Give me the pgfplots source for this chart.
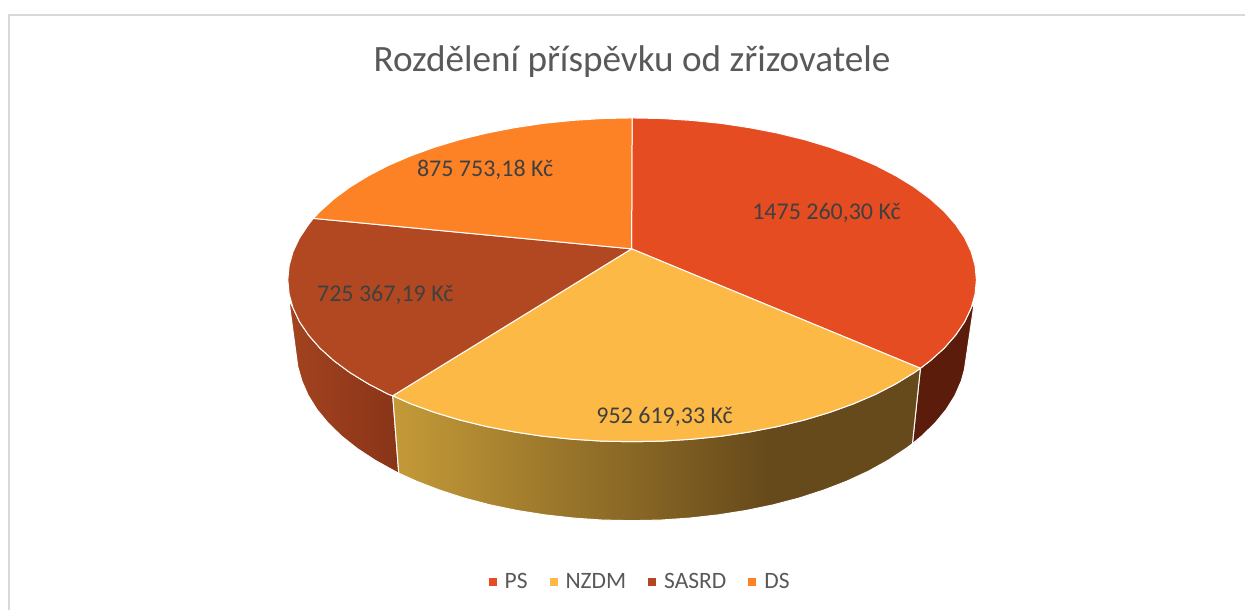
\documentclass[border=0pt]{standalone}
\usepackage{pgfplots}
\pgfplotsset{compat=1.18}
\usepackage{fontspec}
\setmainfont{Carlito}
\definecolor{cPS}{HTML}{E64C21}
\definecolor{cNZ}{HTML}{FDB945}
\definecolor{cSA}{HTML}{B14821}
\definecolor{cDS}{HTML}{FD8226}
\definecolor{wPS}{HTML}{5B1C0B}
\definecolor{nzA}{HTML}{C49A38}
\definecolor{nzB}{HTML}{674A1B}
\definecolor{saA}{HTML}{A3431F}
\definecolor{saB}{HTML}{893418}
\definecolor{cTitle}{HTML}{595959}
\definecolor{cLab}{HTML}{404040}
\definecolor{cFrame}{HTML}{D9D9D9}
\pgfdeclarehorizontalshading{nzgrad}{100bp}{color(0bp)=(nzA); color(25bp)=(nzA); color(60.5bp)=(nzB); color(75bp)=(nzB); color(100bp)=(nzB)}
\begin{document}
\begin{tikzpicture}
\begin{axis}[
  at={(0pt,0pt)}, anchor=south west,
  scale only axis, width=1246pt, height=610pt,
  xmin=0, xmax=1246, ymin=0, ymax=610, y dir=reverse,
  hide axis, clip=false, no markers,
  title={Rozdělení příspěvku od zřizovatele},
  title style={at={(axis description cs:0.5076,0.889)}, anchor=center, font=\fontsize{37.2}{42}\selectfont, text=cTitle},
  legend style={at={(axis description cs:0.5141,0.046)}, anchor=center, draw=none, fill=none,
    font=\fontsize{23.5}{26}\selectfont, text=cTitle, legend columns=-1,
    /tikz/every even column/.append style={column sep=20pt}},
  legend image code/.code={\path[#1,draw=none] (0pt,-4pt) rectangle (8pt,4pt); \path[draw=none,fill=none] (0pt,0pt) -- (14pt,0pt);},
]
% side walls
\addplot[forget plot, fill=wPS, draw=white, line width=1pt, line join=round] coordinates {
 (975,302) (971.8,308.1) (965.3,321.9) (956.2,335.4) (944.7,348.5) (930.8,361.0) (921,368.5)
 (913,444) (922.1,436.5) (935.6,423.4) (946.8,409.8) (955.6,395.7) (961.9,381.3) (965,370)} --cycle;
\addplot[forget plot, left color=saA, right color=saB, draw=white, line width=1pt, line join=round] coordinates {
 (289,300) (293.2,308.1) (299.7,321.9) (308.8,335.4) (320.3,348.5) (334.2,361.0) (350.3,372.9) (368.6,384.1) (388.9,394.6) (393,396)
 (399,473.5) (395.1,471.5) (375.4,460.6) (357.6,448.9) (341.9,436.5) (328.4,423.4) (317.2,409.8) (308.4,395.7) (302.1,381.3) (298,367)} --cycle;
\addplot[forget plot, shading=nzgrad, draw=white, line width=1pt, line join=round] coordinates {
 (921,368.5) (914.7,372.9) (896.4,384.1) (876.1,394.6) (853.9,404.1) (830.1,412.7) (804.8,420.3) (778.1,426.8) (750.3,432.2) (721.7,436.5) (692.3,439.5) (662.5,441.4) (632.5,442)
 (602.5,441.4) (572.7,439.5) (543.3,436.5) (514.7,432.2) (486.9,426.8) (460.2,420.3) (434.9,412.7) (411.1,404.1) (393,396)
 (399,473.5) (416.7,481.5) (439.8,490.4) (464.5,498.4) (490.4,505.2) (517.4,510.8) (545.3,515.2) (573.8,518.4) (602.8,520.4) (632,521)
 (661.2,520.4) (690.2,518.4) (718.7,515.2) (746.6,510.8) (773.6,505.2) (799.5,498.4) (824.2,490.4) (847.3,481.5) (868.9,471.5) (888.6,460.6) (906.4,448.9) (913,444)} --cycle;
% top faces
\addplot[fill=cPS, draw=white, line width=1pt, line join=round] coordinates {
 (632,249) (632.5,118) (662.5,118.6) (692.3,120.5) (721.7,123.5) (750.3,127.8) (778.1,133.2) (804.8,139.7) (830.1,147.3) (853.9,155.9) (876.1,165.4) (896.4,175.9) (914.7,187.1) (930.8,199.0) (944.7,211.5) (956.2,224.6) (965.3,238.1) (971.8,251.9) (975.7,265.9) (977,280)
 (975.7,294.1) (971.8,308.1) (965.3,321.9) (956.2,335.4) (944.7,348.5) (930.8,361.0) (921,368.5)} --cycle;
\addlegendentry{PS}
\addplot[fill=cNZ, draw=white, line width=1pt, line join=round] coordinates {
 (632,249) (921,368.5) (914.7,372.9) (896.4,384.1) (876.1,394.6) (853.9,404.1) (830.1,412.7) (804.8,420.3) (778.1,426.8) (750.3,432.2) (721.7,436.5) (692.3,439.5) (662.5,441.4) (632.5,442)
 (602.5,441.4) (572.7,439.5) (543.3,436.5) (514.7,432.2) (486.9,426.8) (460.2,420.3) (434.9,412.7) (411.1,404.1) (393,396)} --cycle;
\addlegendentry{NZDM}
\addplot[fill=cSA, draw=white, line width=1pt, line join=round] coordinates {
 (632,249) (393,396) (388.9,394.6) (368.6,384.1) (350.3,372.9) (334.2,361.0) (320.3,348.5) (308.8,335.4) (299.7,321.9) (293.2,308.1) (289.3,294.1) (288,280) (289.3,265.9) (293.2,251.9) (299.7,238.1) (308.8,224.6) (313.5,218.5)} --cycle;
\addlegendentry{SASRD}
\addplot[fill=cDS, draw=white, line width=1pt, line join=round] coordinates {
 (632,249) (313.5,218.5) (320.3,211.5) (334.2,199.0) (350.3,187.1) (368.6,175.9) (388.9,165.4) (411.1,155.9) (434.9,147.3) (460.2,139.7) (486.9,133.2) (514.7,127.8) (543.3,123.5) (572.7,120.5) (602.5,118.6) (632.5,118)} --cycle;
\addlegendentry{DS}
% data labels
\node[text=cLab, font=\fontsize{24}{28}\selectfont] at (axis cs:827,213) {1475 260,30 Kč};
\node[text=cLab, font=\fontsize{24}{28}\selectfont] at (axis cs:665,417) {952 619,33 Kč};
\node[text=cLab, font=\fontsize{24}{28}\selectfont] at (axis cs:385.5,295) {725 367,19 Kč};
\node[text=cLab, font=\fontsize{24}{28}\selectfont] at (axis cs:485.5,169.5) {875 753,18 Kč};
% chart frame
\draw[cFrame, line width=1.6pt] (axis cs:1246,15) -- (axis cs:9,15) -- (axis cs:9,610);
\end{axis}
\useasboundingbox (0pt,0pt) rectangle (1246pt,610pt);
\end{tikzpicture}
\end{document}
